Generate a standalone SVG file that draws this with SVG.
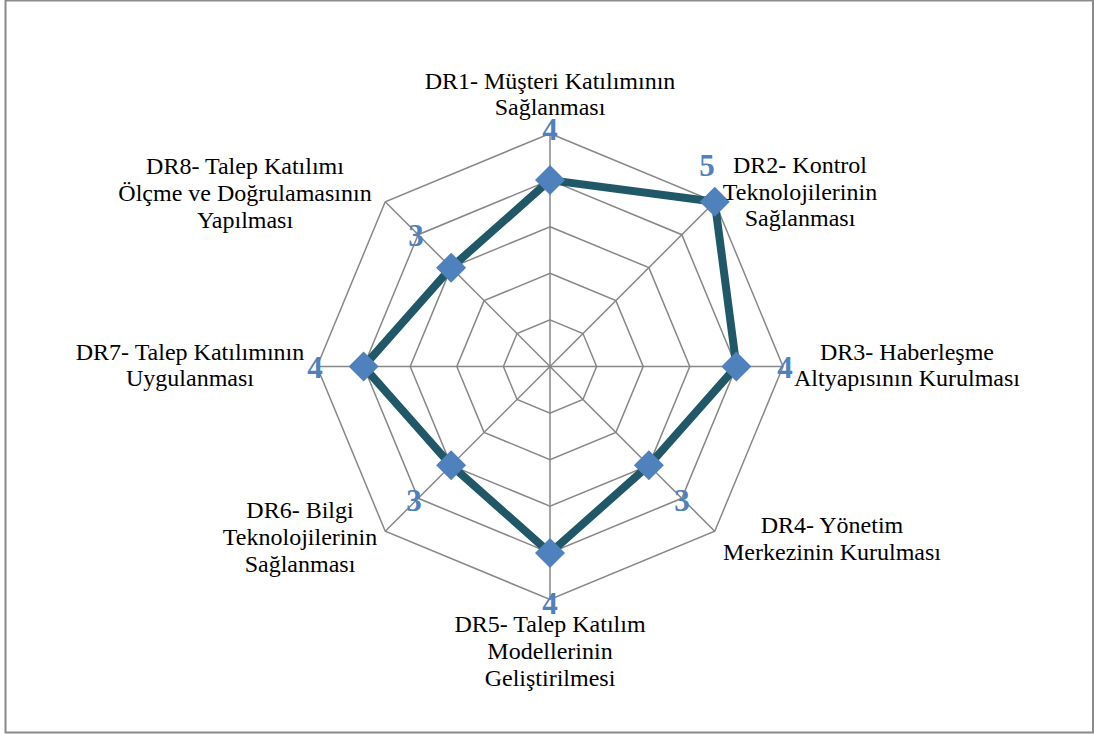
<svg xmlns="http://www.w3.org/2000/svg" width="1094" height="735" viewBox="0 0 1094 735">
  <style>
    .frame { fill: #ffffff; stroke: #8a8a8a; stroke-width: 2; }
    .ring { fill: none; stroke: #878787; stroke-width: 1.5; }
    .spoke { stroke: #878787; stroke-width: 1.5; }
    .series { fill: none; stroke: #215868; stroke-width: 8; stroke-linejoin: round; }
    .marker { fill: #4f81bd; }
    .cat { font-family: "Liberation Serif", "Times New Roman", serif; font-size: 24px; fill: #000000; text-anchor: middle; }
    .val { font-family: "Liberation Serif", "Times New Roman", serif; font-size: 31px; font-weight: bold; fill: #4f81bd; text-anchor: middle; }
  </style>
  <defs>
    <path id="diamond" d="M0,-15 L15,0 L0,15 L-15,0 Z"/>
  </defs>

  <rect class="frame" x="5.5" y="0.5" width="1087.5" height="732"/>

  <!-- radar grid: five octagonal rings and eight spokes -->
  <g id="grid">
    <polygon class="ring" points="550,319.9 582.95,333.55 596.6,366.5 582.95,399.45 550,413.1 517.05,399.45 503.4,366.5 517.05,333.55"/>
    <polygon class="ring" points="550,273.3 615.9,300.6 643.2,366.5 615.9,432.4 550,459.7 484.1,432.4 456.8,366.5 484.1,300.6"/>
    <polygon class="ring" points="550,226.7 648.85,267.65 689.8,366.5 648.85,465.35 550,506.3 451.15,465.35 410.2,366.5 451.15,267.65"/>
    <polygon class="ring" points="550,180.1 681.81,234.69 736.4,366.5 681.81,498.31 550,552.9 418.19,498.31 363.6,366.5 418.19,234.69"/>
    <polygon class="ring" points="550,133.5 714.76,201.74 783,366.5 714.76,531.26 550,599.5 385.24,531.26 317,366.5 385.24,201.74"/>
    <line class="spoke" x1="550" y1="366.5" x2="550" y2="133.5"/>
    <line class="spoke" x1="550" y1="366.5" x2="714.76" y2="201.74"/>
    <line class="spoke" x1="550" y1="366.5" x2="783" y2="366.5"/>
    <line class="spoke" x1="550" y1="366.5" x2="714.76" y2="531.26"/>
    <line class="spoke" x1="550" y1="366.5" x2="550" y2="599.5"/>
    <line class="spoke" x1="550" y1="366.5" x2="385.24" y2="531.26"/>
    <line class="spoke" x1="550" y1="366.5" x2="317" y2="366.5"/>
    <line class="spoke" x1="550" y1="366.5" x2="385.24" y2="201.74"/>
  </g>

  <!-- data series -->
  <g id="connectors">
    <polygon class="series" points="550,180.1 714.76,201.74 736.4,366.5 648.85,465.35 550,552.9 451.15,465.35 363.6,366.5 451.15,267.65"/>
  </g>

  <g id="dr1">
    <use href="#diamond" class="marker" x="550" y="180.1"/>
    <text class="val" x="550" y="140">4</text>
    <text class="cat" x="550" y="89">DR1- Müşteri Katılımının</text>
    <text class="cat" x="550" y="115">Sağlanması</text>
  </g>
  <g id="dr2">
    <use href="#diamond" class="marker" x="714.76" y="201.74"/>
    <text class="val" x="707" y="176">5</text>
    <text class="cat" x="800" y="173">DR2- Kontrol</text>
    <text class="cat" x="800" y="200">Teknolojilerinin</text>
    <text class="cat" x="800" y="226">Sağlanması</text>
  </g>
  <g id="dr3">
    <use href="#diamond" class="marker" x="736.4" y="366.5"/>
    <text class="val" x="785" y="378">4</text>
    <text class="cat" x="907" y="360">DR3- Haberleşme</text>
    <text class="cat" x="907" y="386">Altyapısının Kurulması</text>
  </g>
  <g id="dr4">
    <use href="#diamond" class="marker" x="648.85" y="465.35"/>
    <text class="val" x="682" y="511">3</text>
    <text class="cat" x="832" y="533">DR4- Yönetim</text>
    <text class="cat" x="832" y="560">Merkezinin Kurulması</text>
  </g>
  <g id="dr5">
    <use href="#diamond" class="marker" x="550" y="552.9"/>
    <text class="val" x="550" y="614">4</text>
    <text class="cat" x="550" y="632">DR5- Talep Katılım</text>
    <text class="cat" x="550" y="659">Modellerinin</text>
    <text class="cat" x="550" y="686">Geliştirilmesi</text>
  </g>
  <g id="dr6">
    <use href="#diamond" class="marker" x="451.15" y="465.35"/>
    <text class="val" x="414" y="511">3</text>
    <text class="cat" x="300" y="518">DR6- Bilgi</text>
    <text class="cat" x="300" y="545">Teknolojilerinin</text>
    <text class="cat" x="300" y="572">Sağlanması</text>
  </g>
  <g id="dr7">
    <use href="#diamond" class="marker" x="363.6" y="366.5"/>
    <text class="val" x="315" y="378">4</text>
    <text class="cat" x="190" y="360">DR7- Talep Katılımının</text>
    <text class="cat" x="190" y="386">Uygulanması</text>
  </g>
  <g id="dr8">
    <use href="#diamond" class="marker" x="451.15" y="267.65"/>
    <text class="val" x="416" y="246">3</text>
    <text class="cat" x="245" y="174">DR8- Talep Katılımı</text>
    <text class="cat" x="245" y="201">Ölçme ve Doğrulamasının</text>
    <text class="cat" x="245" y="228">Yapılması</text>
  </g>
</svg>
